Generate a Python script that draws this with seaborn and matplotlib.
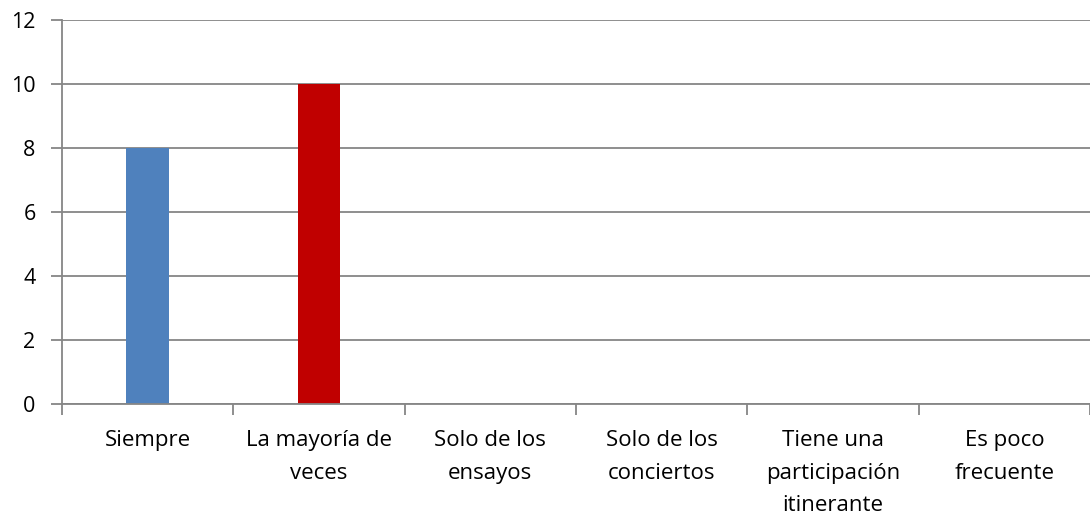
import matplotlib
matplotlib.use("Agg")
import matplotlib.pyplot as plt
import seaborn as sns
import pandas as pd
import numpy as np

categories = ["Siempre", "La mayoría de\nveces", "Solo de los\nensayos", "Solo de los\nconciertos",
              "Tiene una\nparticipación\nitinerante", "Es poco\nfrecuente"]
values = [8, 10, 0, 0, 0, 0]
colors = ["#4F81BD", "#C00000", "#4F81BD", "#4F81BD", "#4F81BD", "#4F81BD"]
yticks = [0, 2, 4, 6, 8, 10, 12]

sns.set_theme(style="white")
plt.rcParams['font.family'] = ['Open Sans', 'DejaVu Sans']

df = pd.DataFrame({"cat": categories, "val": values})

fig = plt.figure(figsize=(10.9, 5.17), dpi=100)
ax = fig.add_axes([62/1090, 1-404/517, 1-62/1090, (404-20)/517])
sns.barplot(data=df, x="cat", y="val", hue="cat", palette=colors, legend=False,
            width=0.25, ax=ax, saturation=1, linewidth=0)

gray = "#868686"
ax.set_ylim(0, 12)
ax.set_xlim(-0.5, len(categories) - 0.5)
ax.set_yticks(yticks)
ax.set_yticklabels([str(v) for v in yticks], fontsize=15.5, color="black")
ax.yaxis.grid(True, color=gray, linewidth=1.3)
ax.set_axisbelow(True)
for s in ["top", "right"]:
    ax.spines[s].set_visible(False)
for s in ["left", "bottom"]:
    ax.spines[s].set_color(gray)
    ax.spines[s].set_linewidth(1.3)
ax.tick_params(axis="y", length=8, width=1.3, color=gray, pad=11, left=True)
ax.set_xticks(range(len(categories)))
ax.set_xticklabels(categories, fontsize=16, linespacing=1.72, va="top", color="black")
ax.tick_params(axis="x", which="major", length=0, pad=19)
ax.set_xticks(np.arange(-0.5, len(categories), 1.0), minor=True)
ax.tick_params(axis="x", which="minor", length=8, width=1.3, color=gray, bottom=True)
ax.set_xlabel("")
ax.set_ylabel("")

fig.savefig("out.png", dpi=100)
